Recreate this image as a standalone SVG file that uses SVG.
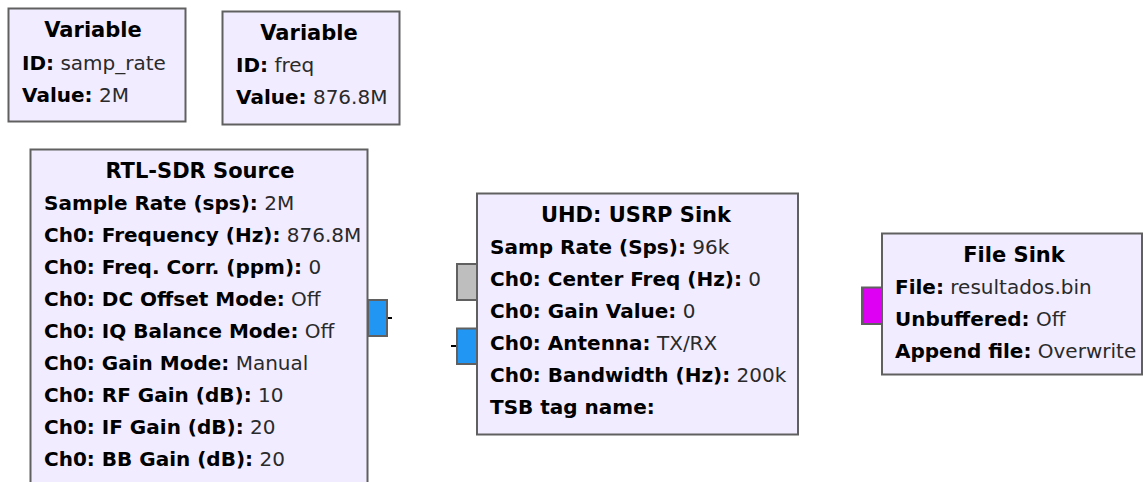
<svg xmlns="http://www.w3.org/2000/svg" width="1143" height="482" viewBox="0 0 1143 482">
<style>
.blk{fill:#F1ECFF;stroke:#606060;stroke-width:2}
.t{font-family:"DejaVu Sans","Liberation Sans",sans-serif;font-size:20px;fill:#2a2a2a}
.k{font-weight:bold;fill:#000}
.ttl{font-family:"DejaVu Sans","Liberation Sans",sans-serif;font-size:21px;font-weight:bold;fill:#000;text-anchor:middle}
.port{stroke:#606060;stroke-width:2}
.cplx{fill:#2196F3}
.msg{fill:#BEBEBE}
.byte{fill:#DD00F2}
.stub{stroke:#000;stroke-width:2}
</style>
<rect width="1143" height="482" fill="#fff"/>
<g id="var_samp_rate">
<rect class="blk" x="8.5" y="8.5" width="177" height="113"/>
<text class="ttl" x="93" y="37">Variable</text>
<text class="t" x="22" y="70"><tspan class="k">ID:</tspan> samp_rate</text>
<text class="t" x="22" y="102"><tspan class="k">Value:</tspan> 2M</text>
</g>
<g id="var_freq">
<rect class="blk" x="222.5" y="11.5" width="177" height="113"/>
<text class="ttl" x="309" y="40">Variable</text>
<text class="t" x="236" y="72"><tspan class="k">ID:</tspan> freq</text>
<text class="t" x="236" y="104"><tspan class="k">Value:</tspan> 876.8M</text>
</g>
<g id="rtlsdr_source">
<rect class="blk" x="30.5" y="149.5" width="337" height="360"/>
<rect class="port cplx" x="368" y="300" width="19" height="36"/>
<text class="ttl" x="200" y="178">RTL-SDR Source</text>
<text class="t" x="44" y="210"><tspan class="k">Sample Rate (sps):</tspan> 2M</text>
<text class="t" x="44" y="242"><tspan class="k">Ch0: Frequency (Hz):</tspan> 876.8M</text>
<text class="t" x="44" y="274"><tspan class="k">Ch0: Freq. Corr. (ppm):</tspan> 0</text>
<text class="t" x="44" y="306"><tspan class="k">Ch0: DC Offset Mode:</tspan> Off</text>
<text class="t" x="44" y="338"><tspan class="k">Ch0: IQ Balance Mode:</tspan> Off</text>
<text class="t" x="44" y="370"><tspan class="k">Ch0: Gain Mode:</tspan> Manual</text>
<text class="t" x="44" y="402"><tspan class="k">Ch0: RF Gain (dB):</tspan> 10</text>
<text class="t" x="44" y="434"><tspan class="k">Ch0: IF Gain (dB):</tspan> 20</text>
<text class="t" x="44" y="466"><tspan class="k">Ch0: BB Gain (dB):</tspan> 20</text>
</g>
<g id="uhd_usrp_sink">
<rect class="blk" x="477" y="193.5" width="321" height="241"/>
<rect class="port msg" x="457" y="264" width="20" height="36"/>
<rect class="port cplx" x="457" y="328.5" width="20" height="35.5"/>
<text class="ttl" x="636" y="222">UHD: USRP Sink</text>
<text class="t" x="490" y="254"><tspan class="k">Samp Rate (Sps):</tspan> 96k</text>
<text class="t" x="490" y="286"><tspan class="k">Ch0: Center Freq (Hz):</tspan> 0</text>
<text class="t" x="490" y="318"><tspan class="k">Ch0: Gain Value:</tspan> 0</text>
<text class="t" x="490" y="350"><tspan class="k">Ch0: Antenna:</tspan> TX/RX</text>
<text class="t" x="490" y="382"><tspan class="k">Ch0: Bandwidth (Hz):</tspan> 200k</text>
<text class="t" x="490" y="414"><tspan class="k">TSB tag name:</tspan></text>
</g>
<g id="file_sink">
<rect class="blk" x="882" y="233.5" width="260" height="141"/>
<rect class="port byte" x="862" y="287.5" width="20" height="36.5"/>
<text class="ttl" x="1014" y="262">File Sink</text>
<text class="t" x="895" y="294"><tspan class="k">File:</tspan> resultados.bin</text>
<text class="t" x="895" y="326"><tspan class="k">Unbuffered:</tspan> Off</text>
<text class="t" x="895" y="358"><tspan class="k">Append file:</tspan> Overwrite</text>
</g>
<g id="connectors">
<line class="stub" x1="388" y1="318" x2="392" y2="318"/>
<line class="stub" x1="451" y1="346" x2="456" y2="346"/>
</g>
</svg>
